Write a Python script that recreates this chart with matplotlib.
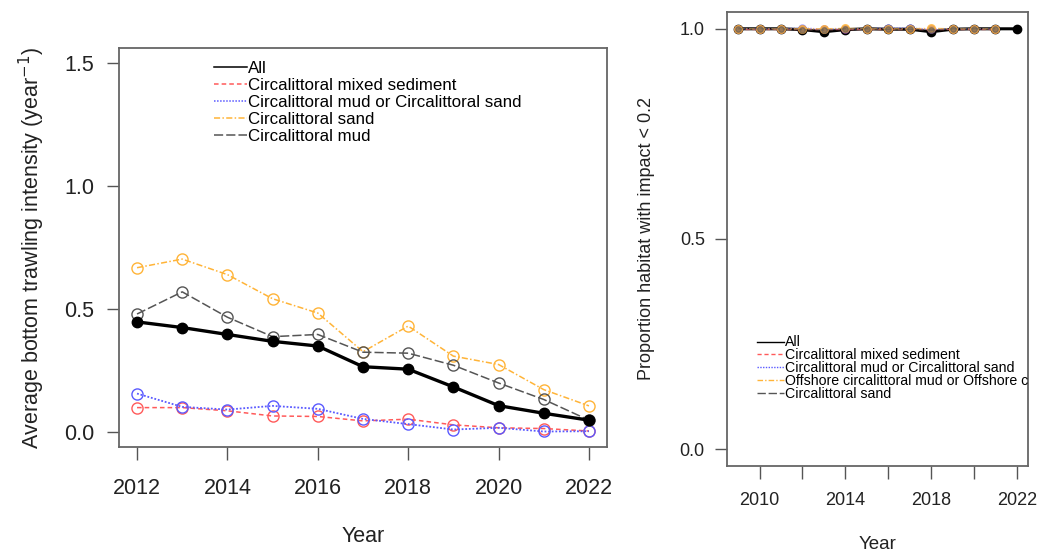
import matplotlib
matplotlib.use("Agg")
import matplotlib.pyplot as plt

plt.rcParams['font.family'] = ['Liberation Sans', 'DejaVu Sans']

# left panel: average bottom trawling intensity
years_l = [2012, 2013, 2014, 2015, 2016, 2017, 2018, 2019, 2020, 2021, 2022]
all_l = [0.448, 0.425, 0.397, 0.369, 0.350, 0.266, 0.256, 0.184, 0.108, 0.077, 0.049]
mixed_l = [0.100, 0.100, 0.087, 0.066, 0.064, 0.046, 0.053, 0.030, 0.018, 0.015, 0.005]
mud_or_sand_l = [0.157, 0.103, 0.092, 0.107, 0.095, 0.054, 0.033, 0.011, 0.018, 0.003, 0.004]
sand_l = [0.668, 0.703, 0.640, 0.542, 0.484, 0.327, 0.431, 0.309, 0.275, 0.173, 0.107]
mud_l = [0.480, 0.570, 0.467, 0.388, 0.397, 0.325, 0.321, 0.272, 0.200, 0.133, 0.049]

# right panel: proportion of habitat with impact < 0.2
years_r = [2009, 2010, 2011, 2012, 2013, 2014, 2015, 2016, 2017, 2018, 2019, 2020, 2021, 2022]
years_hab = [2009, 2010, 2011, 2012, 2013, 2014, 2015, 2016, 2017, 2018, 2019, 2020, 2021]
all_r = [1.0, 1.0, 1.0, 0.998, 0.993, 0.998, 1.0, 0.999, 0.999, 0.993, 0.999, 1.0, 1.0, 1.0]
mixed_r = [1.0, 1.0, 1.0, 1.0, 1.0, 1.0, 1.0, 1.0, 1.0, 1.0, 1.0, 1.0, 1.0]
mud_or_sand_r = [1.0, 1.0, 1.0, 1.002, 0.999, 1.0, 1.0, 1.002, 1.002, 0.999, 1.0, 1.0, 1.0]
offshore_r = [1.0, 1.0, 1.0, 1.0, 1.0, 1.001, 1.0, 1.0, 1.0, 1.001, 1.0, 1.0, 1.0]
sand_r = [1.0, 1.0, 1.0, 0.998, 0.997, 1.0, 1.0, 0.999, 0.999, 0.997, 1.0, 1.0, 1.0]

RED = '#ff5a5a'
BLUE = '#5a5aff'
ORANGE = '#ffb438'
GREY = '#555555'

fig = plt.figure(figsize=(10.38, 5.52), dpi=100)

# ---- left panel
ax1 = fig.add_axes([0.1146, 0.1902, 0.4702, 0.7228])
ax1.plot(years_l, mixed_l, color=RED, ls=(0, (3, 2)), lw=1.1, marker='o', mfc='none', ms=8, mew=1,
         label='Circalittoral mixed sediment')
ax1.plot(years_l, mud_or_sand_l, color=BLUE, ls=(0, (1, 1)), lw=1.3, marker='o', mfc='none', ms=8, mew=1,
         label='Circalittoral mud or Circalittoral sand')
ax1.plot(years_l, sand_l, color=ORANGE, ls=(0, (4, 1.5, 1, 1.5)), lw=1.1, marker='o', mfc='none', ms=8, mew=1,
         label='Circalittoral sand')
ax1.plot(years_l, mud_l, color=GREY, ls=(0, (6, 2)), lw=1.1, marker='o', mfc='none', ms=8, mew=1,
         label='Circalittoral mud')
ax1.plot(years_l, all_l, color='black', lw=2.4, marker='o', ms=7.5, label='All')
ax1.set_xlim(2011.6, 2022.4)
ax1.set_ylim(-0.06, 1.56)
ax1.set_xticks([2012, 2014, 2016, 2018, 2020, 2022])
ax1.set_yticks([0.0, 0.5, 1.0, 1.5])
ax1.set_yticklabels(['0.0', '0.5', '1.0', '1.5'])
ax1.tick_params(axis='both', direction='out', length=9, width=1, colors='#555555',
                labelcolor='#222222', labelsize=15.5)
ax1.tick_params(axis='x', pad=13)
ax1.tick_params(axis='y', pad=9)
for s in ax1.spines.values():
    s.set_color('#666666')
    s.set_linewidth(1.3)
ax1.set_xlabel('Year', fontsize=15.5, labelpad=20, color='#222222')
ax1.set_ylabel('Average bottom trawling intensity (year$^{-1}$)', fontsize=15.5, labelpad=12,
               color='#222222')
h, lab = ax1.get_legend_handles_labels()
order = [4, 0, 1, 2, 3]
leg1 = ax1.legend([h[i] for i in order], [lab[i] for i in order], loc='upper left',
                  bbox_to_anchor=(0.18, 0.985), frameon=False, fontsize=12.2, handlelength=1.95,
                  handletextpad=0.1, labelspacing=0.12, borderaxespad=0)
for lh in leg1.legend_handles:
    lh.set_marker('')
    lh.set_linewidth(1.1)

# ---- right panel
ax2 = fig.add_axes([0.7004, 0.1558, 0.2900, 0.8225])
ax2.plot(years_r, all_r, color='black', lw=2.2, marker='o', ms=6, label='All')
ax2.plot(years_hab, mixed_r, color=RED, ls=(0, (3, 2)), lw=1, marker='o', ms=5, alpha=0.7,
         label='Circalittoral mixed sediment')
ax2.plot(years_hab, mud_or_sand_r, color=BLUE, ls=(0, (1, 1)), lw=1, marker='o', ms=5, alpha=0.6,
         label='Circalittoral mud or Circalittoral sand')
ax2.plot(years_hab, offshore_r, color=ORANGE, ls=(0, (4, 1.5, 1, 1.5)), lw=1, marker='o', ms=5.5, alpha=0.75,
         label='Offshore circalittoral mud or Offshore circalittoral sand')
ax2.plot(years_hab, sand_r, color=GREY, ls=(0, (6, 2)), lw=1, marker='o', ms=4, alpha=0.5,
         label='Circalittoral sand')
ax2.set_xlim(2008.48, 2022.52)
ax2.set_ylim(-0.04, 1.04)
ax2.set_xticks([2010, 2012, 2014, 2016, 2018, 2020, 2022])
ax2.set_xticklabels(['2010', '', '2014', '', '2018', '', '2022'])
ax2.set_yticks([0.0, 0.5, 1.0])
ax2.set_yticklabels(['0.0', '0.5', '1.0'])
ax2.tick_params(axis='both', direction='out', length=9, width=1, colors='#555555',
                labelcolor='#222222', labelsize=13)
ax2.tick_params(axis='x', pad=10)
ax2.tick_params(axis='y', pad=7)
for s in ax2.spines.values():
    s.set_color('#666666')
    s.set_linewidth(1.3)
ax2.set_xlabel('Year', fontsize=13.5, labelpad=19, color='#222222')
ax2.set_ylabel('Proportion habitat with impact < 0.2', fontsize=13, labelpad=18, color='#222222')
leg2 = ax2.legend(loc='upper left', bbox_to_anchor=(0.08, 0.30), frameon=False, fontsize=10.2,
                  handlelength=1.9, handletextpad=0.1, labelspacing=-0.08, borderaxespad=0)
for lh in leg2.legend_handles:
    lh.set_marker('')
    lh.set_alpha(1)
    lh.set_linewidth(1)
for t in leg2.get_texts():
    t.set_clip_on(True)
    t.set_clip_box(ax2.bbox)

fig.savefig('out.png', dpi=100)
